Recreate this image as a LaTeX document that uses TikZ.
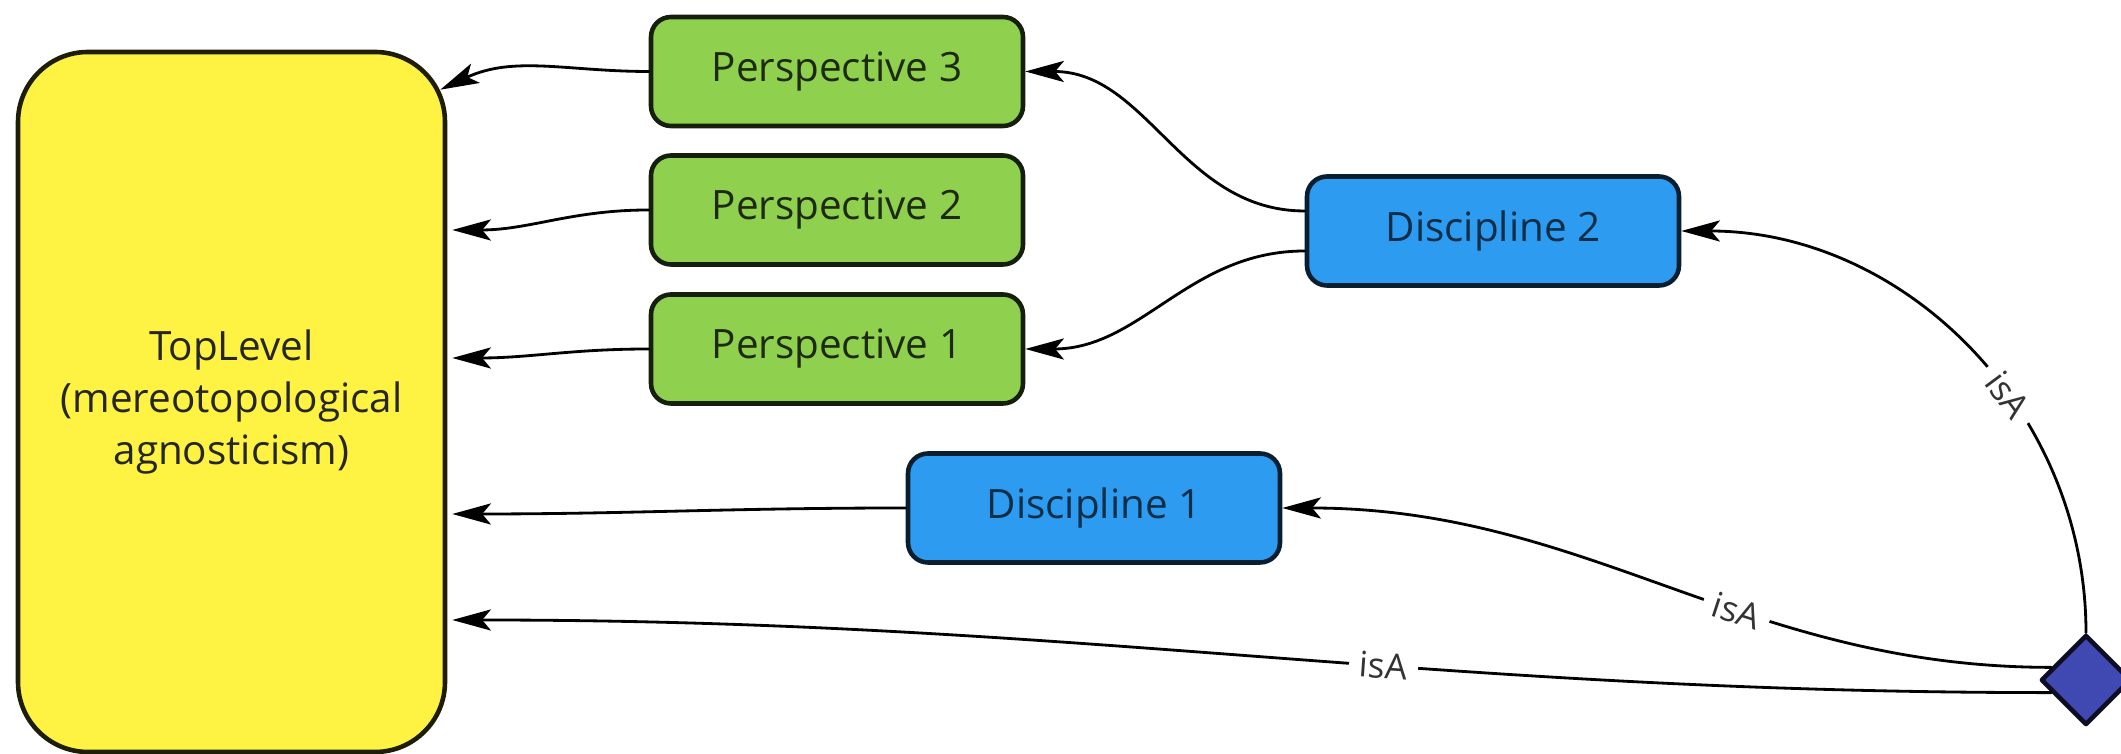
\documentclass[tikz,border=0pt]{standalone}
\usepackage{fontspec}
\setmainfont{Open Sans}
\usepackage{xcolor}
\usetikzlibrary{arrows.meta,shapes.geometric}
\definecolor{topyellow}{RGB}{254,242,66}
\definecolor{persgreen}{RGB}{143,209,79}
\definecolor{discblue}{RGB}{45,155,240}
\definecolor{rootblue}{RGB}{64,72,178}
\tikzset{
  every picture/.style={line join=round, line cap=round, >={Stealth[length=11pt,width=6pt,inset=2.5pt]}},
  box/.style={draw, line width=1.3pt, rounded corners=2mm, minimum width=3.72cm, minimum height=1.09cm, font=\fontsize{11.5}{14}\selectfont},
  persp/.style={box, fill=persgreen, draw=persgreen!15!black, text=persgreen!20!black},
  disc/.style={box, fill=discblue, draw=discblue!20!black, text=discblue!30!black},
  isa/.style={fill=white, inner sep=3pt, sloped, text=black!80, font=\fontsize{10}{12}\selectfont},
}
\begin{document}
\begin{tikzpicture}[->,line width=0.8pt]
\useasboundingbox(0,0)rectangle(21.21,7.54);
\node[draw=topyellow!12!black, fill=topyellow, line width=1.3pt, rounded corners=7mm, minimum width=4.27cm, minimum height=7cm, align=center, text=black!85, font=\fontsize{11.5}{14.8}\selectfont](top)at(2.315,3.52){TopLevel\\(mereotopological\\agnosticism)};
\node[persp](p3)at(8.37,6.825){Perspective 3};
\node[persp](p2)at(8.37,5.44){Perspective 2};
\node[persp](p1)at(8.37,4.05){Perspective 1};
\node[disc](d2)at(14.93,5.23){Discipline 2};
\node[disc](d1)at(10.94,2.46){Discipline 1};
\node[diamond, aspect=1, inner sep=0pt, minimum size=0.9cm, fill=rootblue, draw=rootblue!20!black, line width=1.3pt](root)at(20.86,0.74){};
\draw(p3.west)to[out=180,in=25]([xshift=-0.7mm,yshift=-4mm]top.north east);
\draw(p2.west)to[out=180,in=0]([xshift=0.5mm,yshift=17.2mm]top.east);
\draw(p1.west)to[out=180,in=0]([xshift=0.5mm,yshift=4.4mm]top.east);
\draw(d1.west)to[out=180,in=0]([xshift=0.5mm,yshift=-11.2mm]top.east);
\draw([yshift=2mm]d2.west)to[out=180,in=0](p3.east);
\draw([yshift=-2mm]d2.west)to[out=180,in=0](p1.east);
\draw(root.200)to[out=180,in=0]node[isa,pos=0.41]{isA}([xshift=0.5mm,yshift=-21.8mm]top.east);
\draw(root.160)to[out=180,in=0]node[isa,pos=0.4]{isA}(d1.east);
\draw(root.north)to[out=90,in=0]node[isa,pos=0.4]{isA}(d2.east);
\end{tikzpicture}
\end{document}
